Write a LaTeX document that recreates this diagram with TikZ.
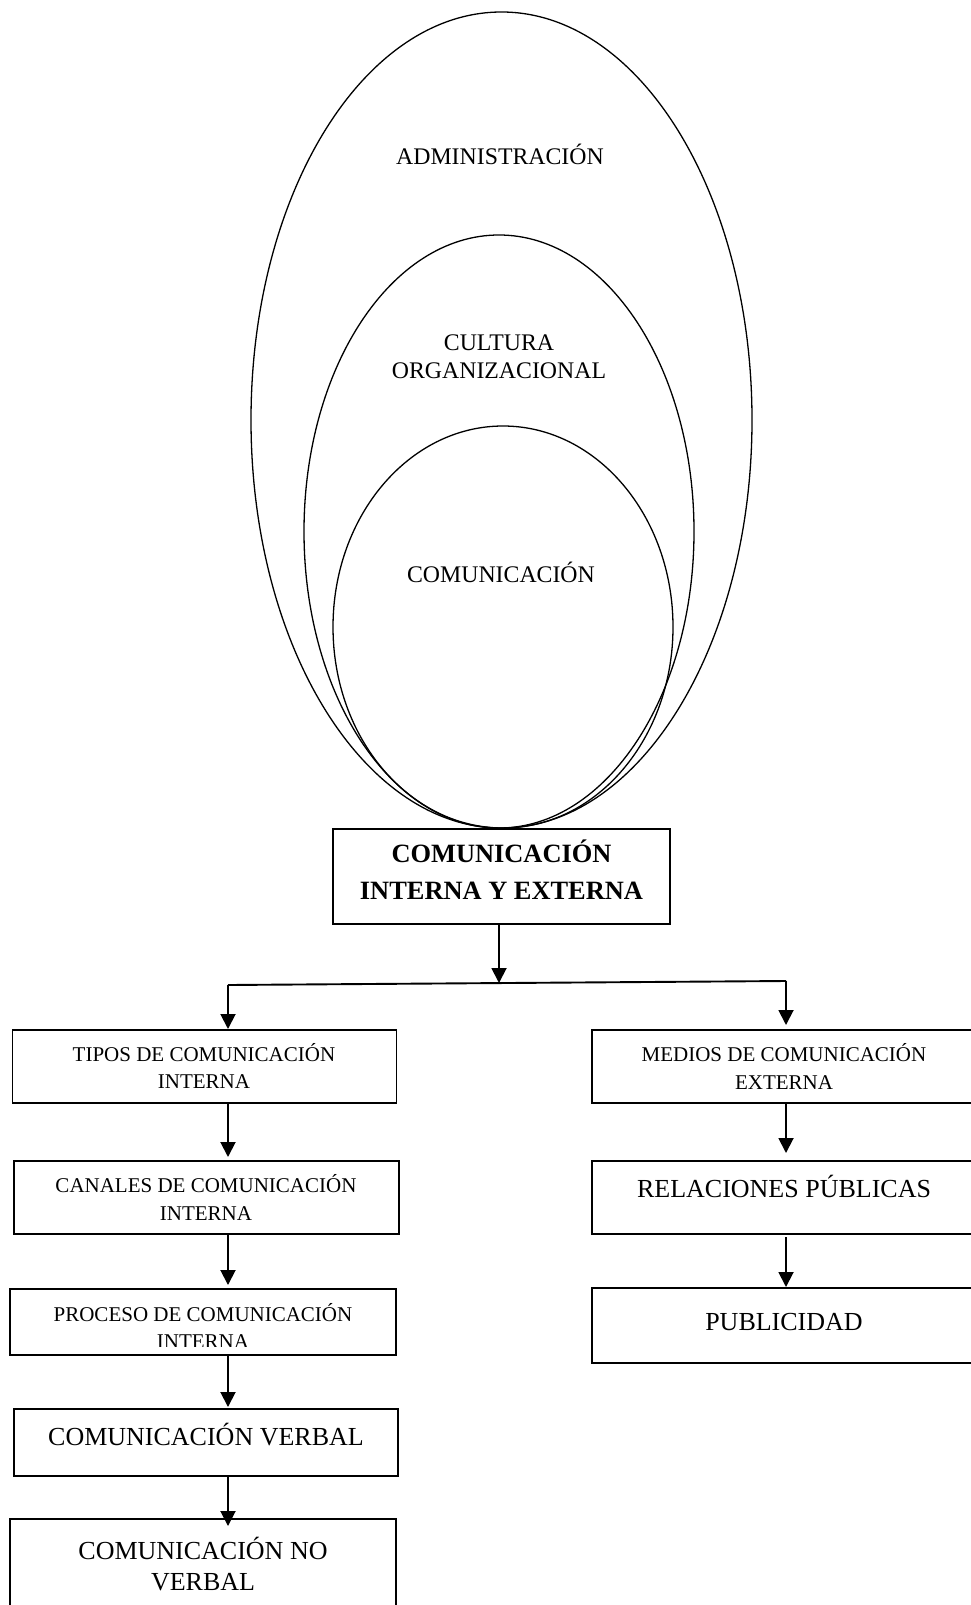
\documentclass[tikz,border=0pt]{standalone}
\usepackage{fontspec}
\setmainfont{Liberation Serif}
\usetikzlibrary{arrows.meta,shapes.geometric,calc}
\begin{document}
\begin{tikzpicture}[x=1pt,y=-1pt,
  ring/.style={ellipse,draw,line width=1.3pt,inner sep=0pt,outer sep=0pt},
  box/.style={rectangle,draw,line width=1.8pt,inner sep=0pt,outer sep=0pt},
  link/.style={line width=1.9pt,-{Triangle[length=15pt,width=15pt]}},
  bar/.style={line width=1.9pt},
  oval/.style={font=\fontsize{23.8}{27.5}\selectfont,align=center,inner sep=0pt},
  small/.style={font=\fontsize{21}{27.5}\selectfont,align=center,inner sep=0pt},
  large/.style={font=\fontsize{26}{31}\selectfont,align=center,inner sep=0pt},
  head/.style={font=\bfseries\fontsize{26.4}{37}\selectfont,align=center,inner sep=0pt}]
\useasboundingbox (0,0) rectangle (971,1605);
\clip (0,0) rectangle (971,1605);

% nested ellipses (multi-line labels are anchored at the baseline of their last line)
\node[ring,minimum width=501pt,minimum height=816pt] (adm)  at (501.5,420) {};
\node[ring,minimum width=390pt,minimum height=593pt] (cult) at (499,531.5) {};
\node[ring,minimum width=340pt,minimum height=402pt] (com)  at (503,627) {};
\node[oval,anchor=base] (tadm)  at (500,165) {ADMINISTRACIÓN};
\node[oval,anchor=base] (tcult) at (499,378) {CULTURA\\ORGANIZACIONAL};
\node[oval,anchor=base] (tcom)  at (501,582) {COMUNICACIÓN};

% central box
\node[box,minimum width=337pt,minimum height=95pt] (cie) at (501.5,876.5) {};
\node[head,anchor=base] (tcie) at (501.5,899) {COMUNICACIÓN\\INTERNA Y EXTERNA};

% left column
\node[box,minimum width=384pt,minimum height=73pt] (tipos)    at (204.5,1066.5) {};
\node[box,minimum width=385pt,minimum height=73pt] (canales)  at (206.5,1197.5) {};
\node[box,minimum width=386pt,minimum height=66pt] (proceso)  at (203,1322) {};
\node[box,minimum width=384pt,minimum height=67pt] (verbal)   at (206,1442.5) {};
\node[box,minimum width=386pt,minimum height=110pt] (noverbal) at (203,1574) {};

\node[small,anchor=base] (ttipos)   at (204,1088.5) {TIPOS DE COMUNICACIÓN\\INTERNA};
\node[small,anchor=base,font=\fontsize{21}{28.5}\selectfont] (tcanales) at (206,1220.5) {CANALES DE COMUNICACIÓN\\INTERNA};
\begin{scope}
  % the last line of this label runs past the box and is cut off
  \clip (0,0) rectangle (971,1346.5);
  \node[small,anchor=base,font=\fontsize{21}{27.5}\selectfont] (tproceso) at (203,1348.5) {PROCESO DE COMUNICACIÓN\\INTERNA};
\end{scope}
\node[large,anchor=base] (tverbal)   at (206,1445) {COMUNICACIÓN VERBAL};
\node[large,anchor=base] (tnoverbal) at (203,1590) {COMUNICACIÓN NO\\VERBAL};

% right column
\node[box,minimum width=383pt,minimum height=73pt] (medios)     at (783.5,1066.5) {};
\node[box,minimum width=383pt,minimum height=73pt] (relaciones) at (783.5,1197.5) {};
\node[box,minimum width=383pt,minimum height=75pt] (publicidad) at (783.5,1325.5) {};

\node[small,anchor=base] (tmedios)     at (784,1089) {MEDIOS DE COMUNICACIÓN\\EXTERNA};
\node[large,anchor=base] (trelaciones) at (784,1197) {RELACIONES PÚBLICAS};
\node[large,anchor=base] (tpublicidad) at (784,1330) {PUBLICIDAD};

% connectors
\coordinate (split) at (499,983);
\coordinate (lft) at (228,985);
\coordinate (rgt) at (786,981);

\draw[link] (cie.south -| split) -- (split);
\draw[bar] (lft) -- (rgt);
\draw[link] (lft) -- ($(lft |- tipos.north)+(0,-1)$);
\draw[link] (rgt) -- ($(rgt |- medios.north)+(0,-5)$);

\draw[link] (tipos.south -| lft) -- ($(canales.north -| lft)+(0,-4)$);
\draw[link] (canales.south -| lft) -- ($(proceso.north -| lft)+(0,-4)$);
\draw[link] (proceso.south -| lft) -- ($(verbal.north -| lft)+(0,-2)$);
\draw[link] (verbal.south -| lft) -- ($(noverbal.north -| lft)+(0,7)$);

\draw[link] (medios.south -| rgt) -- ($(relaciones.north -| rgt)+(0,-8)$);
\draw[link] ($(relaciones.south -| rgt)+(0,3)$) -- ($(publicidad.north -| rgt)+(0,-1)$);
\end{tikzpicture}
\end{document}
